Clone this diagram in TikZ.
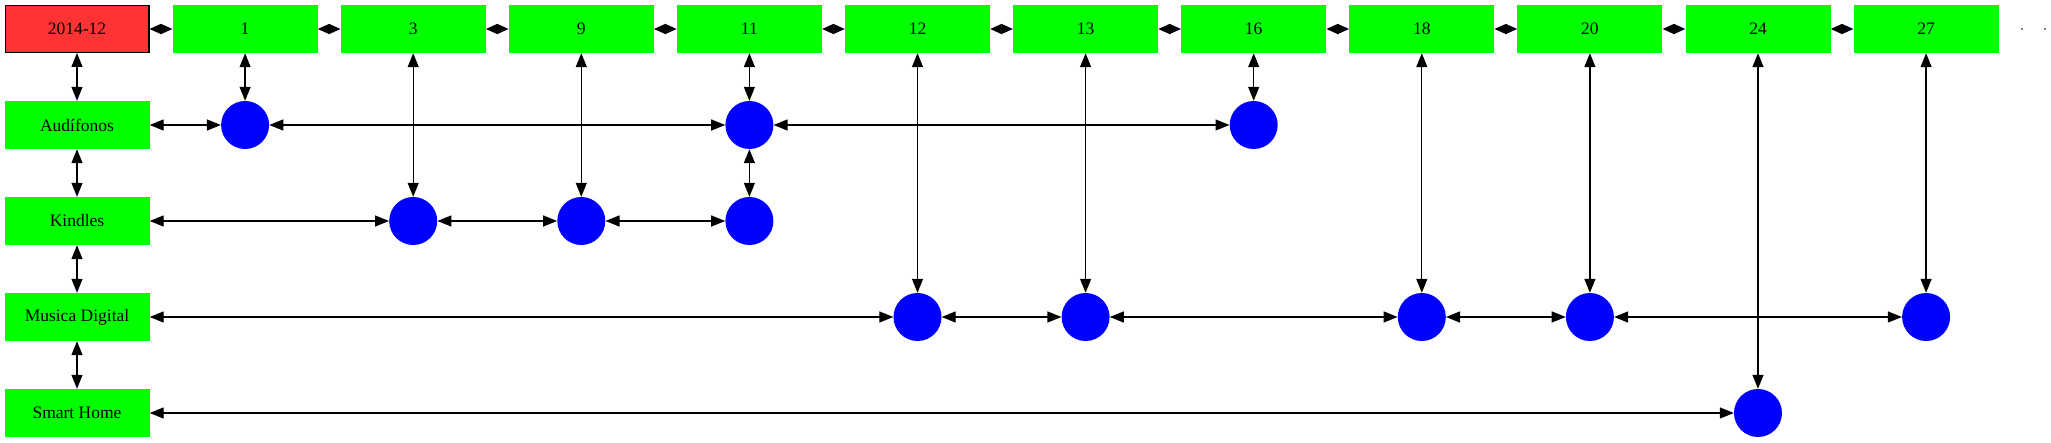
\documentclass[tikz,border=0pt]{standalone}
\usepackage{fontspec}
\setmainfont{Liberation Serif}
\usetikzlibrary{arrows.meta}
\definecolor{boxgreen}{RGB}{0,255,0}
\definecolor{boxred}{RGB}{255,51,51}
\definecolor{dotblue}{RGB}{0,0,255}
\begin{document}
\begin{tikzpicture}[x=1pt,y=-1pt,
  >={Triangle[length=14pt,width=11pt]},
  lbl/.style={font=\fontsize{17.5}{20}\selectfont},
  gbox/.style={rectangle, fill=boxgreen, minimum width=145, minimum height=48, inner sep=0, lbl},
  rbox/.style={rectangle, fill=boxred, draw=black, line width=1.3pt, minimum width=143.7, minimum height=46.7, inner sep=0, lbl},
  bdot/.style={circle, fill=dotblue, minimum size=48, inner sep=0},
  conn/.style={<->, line width=1.3pt},
  hconn/.style={conn, >={Triangle[length=11.5pt,width=10pt]}}]
\useasboundingbox (0,0) rectangle (2051,443);
% header
\node[rbox] (h0) at (77,29) {2014-12};
\foreach \i/\t in {1/1,2/3,3/9,4/11,5/12,6/13,7/16,8/18,9/20,10/24,11/27}
  \node[gbox] (h\i) at ({77+168.1*\i},29) {\t};
% row labels
\node[gbox] (rA) at (77,125) {Audífonos};
\node[gbox] (rK) at (77,221) {Kindles};
\node[gbox] (rM) at (77,317) {Musica Digital};
\node[gbox] (rS) at (77,413) {Smart Home};
% dots
\foreach \i in {1,4,7} \node[bdot] (a\i) at ({77+168.1*\i},125) {};
\foreach \i in {2,3,4} \node[bdot] (k\i) at ({77+168.1*\i},221) {};
\foreach \i in {5,6,8,9,11} \node[bdot] (m\i) at ({77+168.1*\i},317) {};
\foreach \i in {10} \node[bdot] (s\i) at ({77+168.1*\i},413) {};
% trailing dots
\coordinate (e1) at (2022,29);
\coordinate (e2) at (2045,29);
\fill (e1) circle (0.8);
\fill (e2) circle (0.8);
% header chain
\foreach \a/\b in {0/1,1/2,2/3,3/4,4/5,5/6,6/7,7/8,8/9,9/10,10/11}
  \draw[hconn] (h\a) -- (h\b);
% left column
\draw[conn] (h0) -- (rA);
\draw[conn] (rA) -- (rK);
\draw[conn] (rK) -- (rM);
\draw[conn] (rM) -- (rS);
% rows
\draw[conn] (rA) -- (a1);
\draw[conn] (a1) -- (a4);
\draw[conn] (a4) -- (a7);
\draw[conn] (rK) -- (k2);
\draw[conn] (k2) -- (k3);
\draw[conn] (k3) -- (k4);
\draw[conn] (rM) -- (m5);
\draw[conn] (m5) -- (m6);
\draw[conn] (m6) -- (m8);
\draw[conn] (m8) -- (m9);
\draw[conn] (m9) -- (m11);
\draw[conn] (rS) -- (s10);
% verticals
\draw[conn] (h1) -- (a1);
\draw[conn] (h2) -- (k2);
\draw[conn] (h3) -- (k3);
\draw[conn] (h4) -- (a4);
\draw[conn] (a4) -- (k4);
\draw[conn] (h5) -- (m5);
\draw[conn] (h6) -- (m6);
\draw[conn] (h7) -- (a7);
\draw[conn] (h8) -- (m8);
\draw[conn] (h9) -- (m9);
\draw[conn] (h10) -- (s10);
\draw[conn] (h11) -- (m11);
\end{tikzpicture}
\end{document}
